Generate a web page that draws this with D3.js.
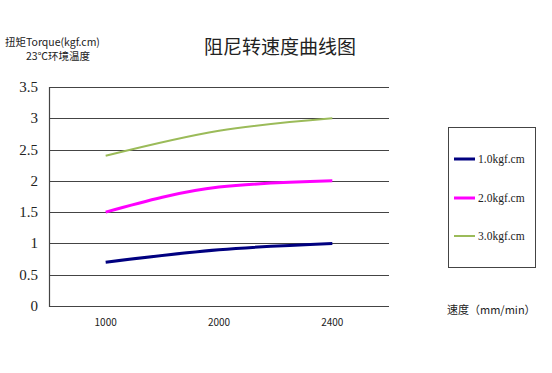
<!DOCTYPE html>
<html>
<head>
<meta charset="utf-8">
<script src="https://cdn.jsdelivr.net/npm/d3@7"></script>
<style>
  body { margin: 0; background: #fff; }
  text { font-family: "Noto Sans CJK SC", "DejaVu Sans", sans-serif; }
</style>
</head>
<body>
<script>
// chart values
var speeds = ["1000", "2000", "2400"];
var yTicks = [0, 0.5, 1, 1.5, 2, 2.5, 3, 3.5];
var seriesNames = ["1.0kgf.cm", "2.0kgf.cm", "3.0kgf.cm"];
var torque1 = [0.7, 0.9, 1.0];
var torque2 = [1.5, 1.9, 2.0];
var torque3 = [2.4, 2.8, 3.0];

var colors = ["#000080", "#ff00ff", "#9bbb59"];
var widths = [3, 3, 2];

var svg = d3.select("body").append("svg")
    .attr("width", 552)
    .attr("height", 373);

var plotL = 49, plotR = 389, plotT = 87, plotB = 306;

var x = d3.scaleBand().domain(speeds).range([plotL, plotR]);
var y = d3.scaleLinear().domain([0, 3.5]).range([plotB, plotT]);

// gridlines
svg.append("g").selectAll("line")
    .data(yTicks)
    .enter().append("line")
    .attr("x1", plotL).attr("x2", plotR)
    .attr("y1", function(d) { return Math.round(y(d)) + 0.5; })
    .attr("y2", function(d) { return Math.round(y(d)) + 0.5; })
    .style("stroke", "#444")
    .style("stroke-width", 1.2);

// left axis line
svg.append("line")
    .attr("x1", plotL + 0.5).attr("x2", plotL + 0.5)
    .attr("y1", plotT).attr("y2", plotB + 1)
    .style("stroke", "#444")
    .style("stroke-width", 1.2);

// y tick labels
svg.append("g").selectAll("text")
    .data(yTicks)
    .enter().append("text")
    .attr("x", 38)
    .attr("y", function(d) { return y(d) + 5; })
    .attr("text-anchor", "end")
    .style("font-family", "'Liberation Serif', serif")
    .style("font-size", "15px")
    .style("fill", "#222")
    .text(function(d) { return d; });

// x tick labels
svg.append("g").selectAll("text")
    .data(speeds)
    .enter().append("text")
    .attr("x", function(d) { return x(d) + x.bandwidth() / 2; })
    .attr("y", 326)
    .attr("text-anchor", "middle")
    .style("font-size", "10px")
    .style("fill", "#222")
    .text(function(d) { return d; });

// lines
var line = d3.line()
    .x(function(d, i) { return x(speeds[i]) + x.bandwidth() / 2; })
    .y(function(d) { return y(d); })
    .curve(d3.curveMonotoneX);

[torque1, torque2, torque3].forEach(function(vals, i) {
    svg.append("path")
        .attr("d", line(vals))
        .style("fill", "none")
        .style("stroke", colors[i])
        .style("stroke-width", widths[i]);
});

// title
svg.append("text")
    .attr("x", 280).attr("y", 54)
    .attr("text-anchor", "middle")
    .style("font-size", "19px")
    .style("fill", "#222")
    .text("阻尼转速度曲线图");

// y axis title
svg.append("text")
    .attr("x", 5).attr("y", 46)
    .style("font-size", "10.5px")
    .style("fill", "#222")
    .text("扭矩Torque(kgf.cm)");
svg.append("text")
    .attr("x", 58).attr("y", 60)
    .attr("text-anchor", "middle")
    .style("font-size", "10.5px")
    .style("fill", "#222")
    .text("23℃环境温度");

// x axis title
svg.append("text")
    .attr("x", 447).attr("y", 314)
    .style("font-size", "11px")
    .style("fill", "#222")
    .text("速度（mm/min）");

// legend
svg.append("rect")
    .attr("x", 448.5).attr("y", 127.5)
    .attr("width", 87).attr("height", 140)
    .style("fill", "none")
    .style("stroke", "#444");

var legendY = [159, 198, 236];
seriesNames.forEach(function(name, i) {
    svg.append("line")
        .attr("x1", 454).attr("x2", 475)
        .attr("y1", legendY[i]).attr("y2", legendY[i])
        .style("stroke", colors[i])
        .style("stroke-width", widths[i]);
    svg.append("text")
        .attr("x", 478).attr("y", legendY[i] + 4)
        .style("font-family", "'Liberation Serif', serif")
        .style("font-size", "11.5px")
        .style("fill", "#222")
        .text(name);
});
</script>
</body>
</html>
